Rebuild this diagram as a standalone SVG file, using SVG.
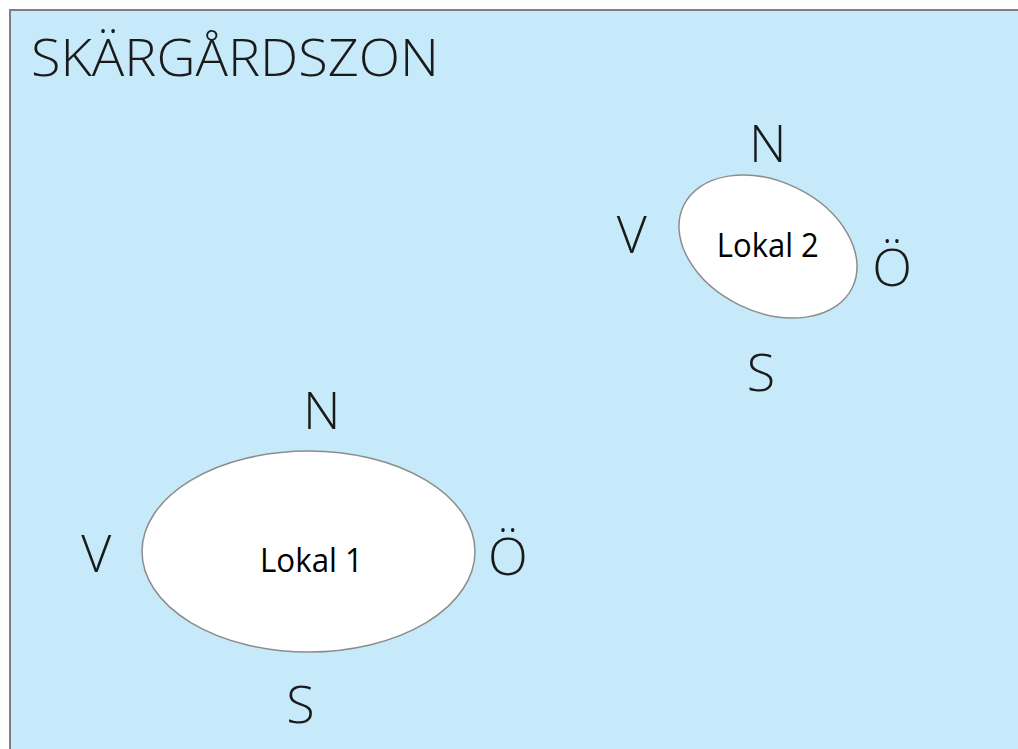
<svg xmlns="http://www.w3.org/2000/svg" width="1018" height="749" viewBox="0 0 1018 749">
<style>
.zone{fill:#C7EAFB;stroke:#7f7f7f;stroke-width:2}
.lokal{fill:#ffffff;stroke:#8c8c8c;stroke-width:1.5}
.big{font-family:"Open Sans","Noto Sans","Liberation Sans",sans-serif;font-weight:300;font-size:52px;fill:#1a1a1a}
.cmp{text-anchor:middle}
.lbl{font-family:"Open Sans","Noto Sans","Liberation Sans",sans-serif;font-size:32px;fill:#000;text-anchor:middle}
</style>
<rect x="0" y="0" width="1018" height="749" fill="#ffffff"/>
<g id="zone">
<rect class="zone" x="10" y="10" width="1020" height="760"/>
<text class="big" x="31" y="76" font-size="54" textLength="408" lengthAdjust="spacingAndGlyphs">SKÄRGÅRDSZON</text>
</g>
<g id="lokal1">
<ellipse class="lokal" cx="308.5" cy="551.5" rx="166.5" ry="100.5"/>
<text class="lbl" x="311.5" y="572.3" textLength="103" lengthAdjust="spacingAndGlyphs">Lokal 1</text>
<text class="big cmp" x="321.8" y="429">N</text>
<text class="big cmp" x="96.3" y="572">V</text>
<text class="big cmp" x="507.9" y="575">Ö</text>
<text class="big cmp" x="300.5" y="722.5">S</text>
</g>
<g id="lokal2">
<ellipse class="lokal" cx="768" cy="246.5" rx="93.8" ry="65.1" transform="rotate(25.9 768 246.5)"/>
<text class="lbl" x="767.8" y="257.3" textLength="102" lengthAdjust="spacingAndGlyphs">Lokal 2</text>
<text class="big cmp" x="767.7" y="161.7">N</text>
<text class="big cmp" x="631.7" y="253.3">V</text>
<text class="big cmp" x="892" y="285.7">Ö</text>
<text class="big cmp" x="761" y="391">S</text>
</g>
</svg>
